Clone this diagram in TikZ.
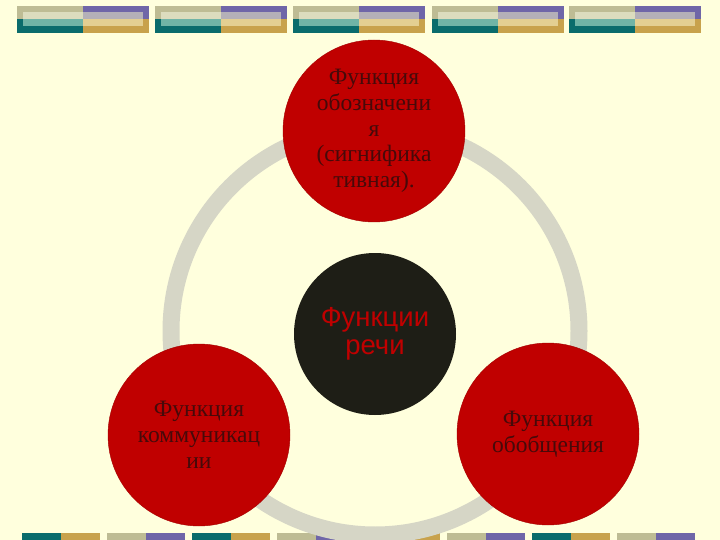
\documentclass[tikz,border=0pt]{standalone}
\usepackage{fontspec}
\setmainfont{Liberation Serif}
\newfontfamily\arialfont{Liberation Sans}
\definecolor{cream}{RGB}{255, 255, 221}
\definecolor{ringgrey}{RGB}{214, 214, 198}
\definecolor{fnred}{RGB}{192, 0, 0}
\definecolor{fntext}{RGB}{70, 10, 10}
\definecolor{coreblack}{RGB}{30, 30, 22}
\definecolor{khaki}{RGB}{190, 188, 148}
\definecolor{palekhaki}{RGB}{220, 220, 190}
\definecolor{teal}{RGB}{10, 108, 108}
\definecolor{paleteal}{RGB}{112, 180, 166}
\definecolor{purple}{RGB}{111, 102, 168}
\definecolor{greypurple}{RGB}{180, 176, 184}
\definecolor{gold}{RGB}{200, 162, 76}
\definecolor{palegold}{RGB}{227, 207, 146}
\usetikzlibrary{positioning}

\begin{document}
\begin{tikzpicture}[x=1pt,y=-1pt,
    fn circle/.style={circle, fill=fnred, draw=fnred!85!black, thin, minimum size=182pt,
        inner sep=0pt, align=center, text=fntext, font=\fontsize{23.5}{25.7}\selectfont},
    core circle/.style={circle, fill=coreblack, minimum size=162pt, inner sep=0pt,
        align=center, text=fnred, font=\arialfont\fontsize{27.5}{28}\selectfont}]
    \useasboundingbox (0,0) rectangle (720,540);
    \fill[cream] (0,0) rectangle (720,540);

    % top stripe
    \foreach \x in {17,155,293,432,569} {
        \fill[khaki] (\x,6) rectangle (\x+66,19);
        \fill[palekhaki] (\x+6,12) rectangle (\x+66,19);
        \fill[teal] (\x,19) rectangle (\x+66,33);
        \fill[paleteal] (\x+6,19) rectangle (\x+66,26);
        \fill[purple] (\x+66,6) rectangle (\x+132,19);
        \fill[greypurple] (\x+66,12) rectangle (\x+126,19);
        \fill[gold] (\x+66,19) rectangle (\x+132,33);
        \fill[palegold] (\x+66,19) rectangle (\x+126,26);
    }

    % bottom stripe
    \foreach \x [count=\i] in {22,107,192,277,362,447,532,617} {
        \ifodd\i
            \fill[teal] (\x,533) rectangle (\x+39,540);
            \fill[gold] (\x+39,533) rectangle (\x+78,540);
        \else
            \fill[khaki] (\x,533) rectangle (\x+39,540);
            \fill[purple] (\x+39,533) rectangle (\x+78,540);
        \fi
    }

    \draw[ringgrey, line width=17pt] (375,331) circle (204);

    \node[core circle] (speech) at (375,334) {Функции\\речи};
    \node[fn circle] (signif) at (374,131) {Функция\\обозначени\\я\\(сигнифика\\тивная).};
    \node[fn circle] (commun) at (199,435) {Функция\\коммуникац\\ии};
    \node[fn circle] (general) at (548,434) {Функция\\обобщения};
\end{tikzpicture}
\end{document}
